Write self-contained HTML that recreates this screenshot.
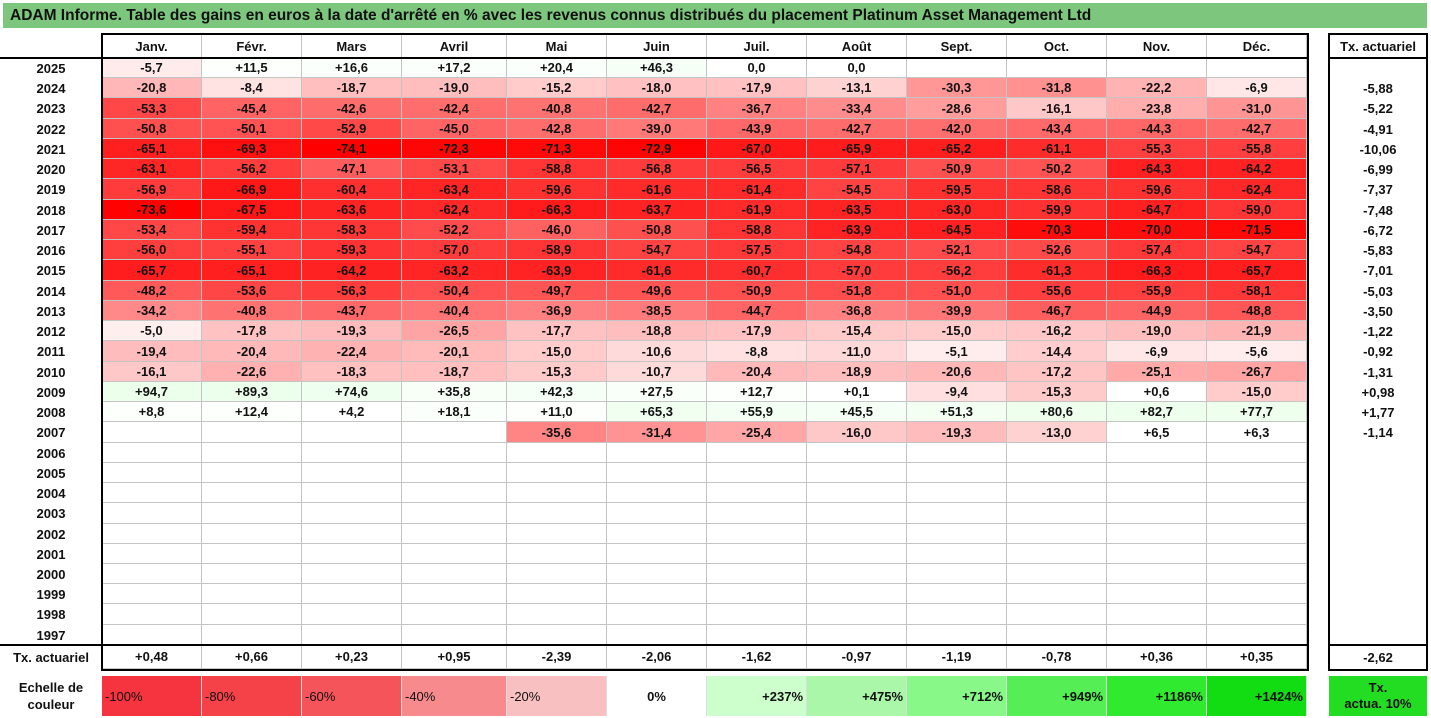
<!DOCTYPE html>
<html><head><meta charset="utf-8">
<style>
body{margin:0;width:1431px;height:718px;background:#fff;position:relative;overflow:hidden;font-family:"Liberation Sans",sans-serif;font-weight:bold;font-size:13px;color:#111}
.c{position:absolute;box-sizing:border-box;display:flex;align-items:center;justify-content:center;white-space:nowrap}
.g{border-right:1px solid #c4c4c4;border-bottom:1px solid #c4c4c4}
.box{position:absolute;box-sizing:border-box;border:2px solid #000;pointer-events:none}
</style></head><body>
<div class="c" style="left:3px;top:3px;width:1424px;height:25px;background:#7dc67d;justify-content:flex-start;padding-left:7px;font-size:15.5px;color:#111">ADAM Informe. Table des gains en euros à la date d'arrêté en % avec les revenus connus distribués du placement Platinum Asset Management Ltd</div>
<div id="root"></div>
<script>
const months=["Janv.","Févr.","Mars","Avril","Mai","Juin","Juil.","Août","Sept.","Oct.","Nov.","Déc."];
const years=[2025,2024,2023,2022,2021,2020,2019,2018,2017,2016,2015,2014,2013,2012,2011,2010,2009,2008,2007,2006,2005,2004,2003,2002,2001,2000,1999,1998,1997];
const r2025=[-5.7,11.5,16.6,17.2,20.4,46.3,0.0,0.0,null,null,null,null];
const r2024=[-20.8,-8.4,-18.7,-19.0,-15.2,-18.0,-17.9,-13.1,-30.3,-31.8,-22.2,-6.9];
const r2023=[-53.3,-45.4,-42.6,-42.4,-40.8,-42.7,-36.7,-33.4,-28.6,-16.1,-23.8,-31.0];
const r2022=[-50.8,-50.1,-52.9,-45.0,-42.8,-39.0,-43.9,-42.7,-42.0,-43.4,-44.3,-42.7];
const r2021=[-65.1,-69.3,-74.1,-72.3,-71.3,-72.9,-67.0,-65.9,-65.2,-61.1,-55.3,-55.8];
const r2020=[-63.1,-56.2,-47.1,-53.1,-58.8,-56.8,-56.5,-57.1,-50.9,-50.2,-64.3,-64.2];
const r2019=[-56.9,-66.9,-60.4,-63.4,-59.6,-61.6,-61.4,-54.5,-59.5,-58.6,-59.6,-62.4];
const r2018=[-73.6,-67.5,-63.6,-62.4,-66.3,-63.7,-61.9,-63.5,-63.0,-59.9,-64.7,-59.0];
const r2017=[-53.4,-59.4,-58.3,-52.2,-46.0,-50.8,-58.8,-63.9,-64.5,-70.3,-70.0,-71.5];
const r2016=[-56.0,-55.1,-59.3,-57.0,-58.9,-54.7,-57.5,-54.8,-52.1,-52.6,-57.4,-54.7];
const r2015=[-65.7,-65.1,-64.2,-63.2,-63.9,-61.6,-60.7,-57.0,-56.2,-61.3,-66.3,-65.7];
const r2014=[-48.2,-53.6,-56.3,-50.4,-49.7,-49.6,-50.9,-51.8,-51.0,-55.6,-55.9,-58.1];
const r2013=[-34.2,-40.8,-43.7,-40.4,-36.9,-38.5,-44.7,-36.8,-39.9,-46.7,-44.9,-48.8];
const r2012=[-5.0,-17.8,-19.3,-26.5,-17.7,-18.8,-17.9,-15.4,-15.0,-16.2,-19.0,-21.9];
const r2011=[-19.4,-20.4,-22.4,-20.1,-15.0,-10.6,-8.8,-11.0,-5.1,-14.4,-6.9,-5.6];
const r2010=[-16.1,-22.6,-18.3,-18.7,-15.3,-10.7,-20.4,-18.9,-20.6,-17.2,-25.1,-26.7];
const r2009=[94.7,89.3,74.6,35.8,42.3,27.5,12.7,0.1,-9.4,-15.3,0.6,-15.0];
const r2008=[8.8,12.4,4.2,18.1,11.0,65.3,55.9,45.5,51.3,80.6,82.7,77.7];
const r2007=[null,null,null,null,-35.6,-31.4,-25.4,-16.0,-19.3,-13.0,6.5,6.3];
const rows=[r2025,r2024,r2023,r2022,r2021,r2020,r2019,r2018,r2017,r2016,r2015,r2014,r2013,r2012,r2011,r2010,r2009,r2008,r2007];
const txYear=[null,-5.88,-5.22,-4.91,-10.06,-6.99,-7.37,-7.48,-6.72,-5.83,-7.01,-5.03,-3.50,-1.22,-0.92,-1.31,0.98,1.77,-1.14];
const txMonth=[0.48,0.66,0.23,0.95,-2.39,-2.06,-1.62,-0.97,-1.19,-0.78,0.36,0.35];
const txTotal=-2.62;
const legendLabels=["-100%","-80%","-60%","-40%","-20%","0%","+237%","+475%","+712%","+949%","+1186%","+1424%"];
const legendColors=["#f5343f","#f54249","#f5545a","#f78a8c","#f9c0c2","#ffffff","#ccffcc","#aaf7aa","#88f888","#55ee55","#30ea30","#12dd12"];

const root=document.getElementById('root');
const colX=[102,202,302,402,507,607,707,807,907,1007,1107,1207,1307];
const top0=58,rowH=20.24;
function fmt(v,d){const s=v.toFixed(d).replace('.',',');return v>0?'+'+s:s;}
function color(v){
  if(v<0){const t=Math.min(1,-v/74);const g=Math.round(255*(1-t));return `rgb(255,${g},${g})`;}
  const t=Math.min(1,v/1424);const rb=Math.round(255*(1-t*1.2));return `rgb(${Math.max(0,rb)},255,${Math.max(0,rb)})`;
}
function cell(x,y,w,h,txt,bg,cls){
  const d=document.createElement('div');
  d.className='c '+(cls||'');
  d.style.cssText=`left:${x}px;top:${y}px;width:${w}px;height:${h}px;`+(bg?`background:${bg};`:'');
  d.textContent=txt;root.appendChild(d);return d;
}
months.forEach((m,i)=>{
  const d=cell(colX[i],35,colX[i+1]-colX[i],23,m,null,'g');
  
  
});
const th=cell(1329,35,98,23,'Tx. actuariel');


years.forEach((y,r)=>{
  const yy=Math.round(top0+r*rowH),hh=Math.round(top0+(r+1)*rowH)-yy;
  const yl=cell(0,yy,102,hh,String(y));
  
  
  const data=rows[r]||[];
  for(let i=0;i<12;i++){
    const v=data[i];
    const has=v!==undefined&&v!==null;
    const d=cell(colX[i],yy,colX[i+1]-colX[i],hh,has?fmt(v,1):'',has&&v!==0?color(v):null,'g');
    
    
  }
  const t=txYear[r];
  const tc=cell(1329,yy,98,hh,(t!==undefined&&t!==null)?fmt(t,2):'');
  
  
});
const bottomY=Math.round(top0+years.length*rowH);
const tl=cell(0,bottomY,102,24,'Tx. actuariel');


txMonth.forEach((v,i)=>{
  const d=cell(colX[i],bottomY,colX[i+1]-colX[i],24,fmt(v,2),null,'g');
  
  
});
const tt=cell(1329,bottomY,98,24,fmt(txTotal,2));


// boxes
function box(x,y,w,h,n){const b=document.createElement('div');b.className='box';b.style.cssText=`left:${x}px;top:${y}px;width:${w}px;height:${h}px;`;


root.appendChild(b);}
box(101,33,1208,bottomY-33+26,'table-frame');
box(1328,33,100,bottomY-33+26,'tx-frame');
const hl=document.createElement('div');hl.style.cssText=`position:absolute;left:0;top:${top0-1}px;width:1309px;height:2px;background:#000`;


root.appendChild(hl);
const hl2=document.createElement('div');hl2.style.cssText=`position:absolute;left:0;top:${bottomY-1}px;width:1309px;height:2px;background:#000`;


root.appendChild(hl2);
const hl3=document.createElement('div');hl3.style.cssText=`position:absolute;left:1328px;top:${top0-1}px;width:100px;height:2px;background:#000`;


root.appendChild(hl3);
const hl4=document.createElement('div');hl4.style.cssText=`position:absolute;left:1328px;top:${bottomY-1}px;width:100px;height:2px;background:#000`;


root.appendChild(hl4);
// legend
const ly=676,lh=40;
const le=cell(0,ly,102,lh,'');
le.innerHTML='Echelle de<br>couleur';le.style.textAlign='center';le.style.lineHeight='17px';


legendLabels.forEach((l,i)=>{
  const d=cell(colX[i],ly,colX[i+1]-colX[i],lh,l,legendColors[i],'g');
  d.style.borderRight='1px solid #ddd';d.style.borderBottom='none';
  if(i<5){d.style.justifyContent='flex-start';d.style.paddingLeft='3px';d.style.fontWeight='normal';}
  else if(i>5){d.style.justifyContent='flex-end';d.style.paddingRight='3px';}
  
  
});
const lt=cell(1329,ly,98,lh,'');
lt.innerHTML='Tx.<br>actua. 10%';lt.style.background='#22dd22';lt.style.textAlign='center';lt.style.lineHeight='16px';


</script>
</body></html>
